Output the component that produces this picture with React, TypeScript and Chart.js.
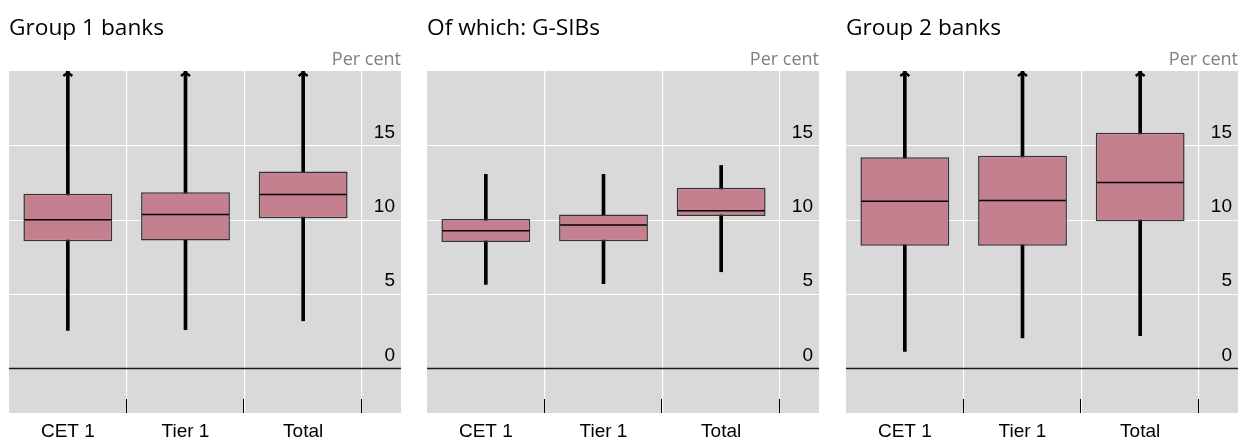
import React, { useEffect, useRef } from "react";
import { Chart, registerables } from "chart.js";

Chart.register(...registerables);

const categories = ["CET 1", "Tier 1", "Total"];
const panelTitles = ["Group 1 banks", "Of which: G-SIBs", "Group 2 banks"];
const unitLabel = "Per cent";

// Group 1 banks
const g1Low = [2.55, 2.6, 3.2];
const g1Q1 = [8.55, 8.6, 10.1];
const g1Median = [10.0, 10.35, 11.7];
const g1Q3 = [11.75, 11.85, 13.25];
const g1High = [20, 20, 20]; // truncated at the axis top

// Of which: G-SIBs
const gsLow = [5.65, 5.7, 6.5];
const gsQ1 = [8.5, 8.55, 10.25];
const gsMedian = [9.25, 9.65, 10.6];
const gsQ3 = [10.05, 10.35, 12.15];
const gsHigh = [13.05, 13.05, 13.65];

// Group 2 banks
const g2Low = [1.15, 2.05, 2.2];
const g2Q1 = [8.25, 8.25, 9.9];
const g2Median = [11.25, 11.3, 12.5];
const g2Q3 = [14.2, 14.3, 15.85];
const g2High = [20, 20, 20]; // truncated at the axis top

const yMin = -3;
const yMax = 20;
const yStep = 5;

const panels = [
  { title: panelTitles[0], low: g1Low, q1: g1Q1, median: g1Median, q3: g1Q3, high: g1High, left: 9 },
  { title: panelTitles[1], low: gsLow, q1: gsQ1, median: gsMedian, q3: gsQ3, high: gsHigh, left: 427 },
  { title: panelTitles[2], low: g2Low, q1: g2Q1, median: g2Median, q3: g2Q3, high: g2High, left: 846 },
];

const BOX_FILL = "#C4808F";
const BOX_BORDER = "#333333";
const PANEL_BG = "#D9D9D9";
const SANS = "'Liberation Sans', Arial, sans-serif";
const TITLE_FONT = "'Open Sans', 'Noto Sans', sans-serif";

const CANVAS_W = 392;
const CANVAS_H = 441;
const LABEL_INSET = 6;

const boxDecor = {
  id: "boxDecor",
  afterLayout(chart: any) {
    // tick labels sit a little in from the panel's right edge
    const ys = chart.scales.y;
    ys.right = chart.width - LABEL_INSET;
  },
  beforeDraw(chart: any) {
    const { ctx, chartArea } = chart;
    ctx.save();
    ctx.fillStyle = PANEL_BG;
    ctx.fillRect(chartArea.left, chartArea.top, chart.width - chartArea.left, chartArea.bottom - chartArea.top);
    ctx.restore();
  },
  beforeDatasetsDraw(chart: any) {
    const { ctx, chartArea } = chart;
    const ys = chart.scales.y;
    const xs = chart.scales.x;
    ctx.save();
    ys.ticks.forEach((t: any) => {
      if (t.value <= 0 || t.value >= yMax) return;
      const y = Math.round(ys.getPixelForValue(t.value)) + 0.5;
      ctx.strokeStyle = "#ffffff";
      ctx.lineWidth = 1.2;
      ctx.beginPath();
      ctx.moveTo(chartArea.left, y);
      ctx.lineTo(chart.width, y);
      ctx.stroke();
    });
    const y0 = Math.round(ys.getPixelForValue(0)) + 0.5;
    ctx.strokeStyle = "#1a1a1a";
    ctx.lineWidth = 1.3;
    ctx.beginPath();
    ctx.moveTo(chartArea.left, y0);
    ctx.lineTo(chart.width, y0);
    ctx.stroke();
    const n = chart.data.labels.length;
    const half = (xs.getPixelForValue(1) - xs.getPixelForValue(0)) / 2;
    ctx.strokeStyle = "#000000";
    ctx.lineWidth = 1;
    for (let i = 0; i < n; i++) {
      const x = Math.round(xs.getPixelForValue(i) + half) - 0.5;
      ctx.beginPath();
      ctx.moveTo(x, chartArea.bottom - 14);
      ctx.lineTo(x, chartArea.bottom);
      ctx.stroke();
    }
    ctx.restore();
  },
  afterDatasetsDraw(chart: any, _args: any, opts: any) {
    const { ctx, chartArea } = chart;
    const ys = chart.scales.y;
    const boxMeta = chart.getDatasetMeta(0);
    const medians: number[] = opts.median || [];
    const highs: number[] = opts.high || [];
    ctx.save();
    boxMeta.data.forEach((el: any, i: number) => {
      const y = ys.getPixelForValue(medians[i]);
      ctx.strokeStyle = "#000000";
      ctx.lineWidth = 1.5;
      ctx.beginPath();
      ctx.moveTo(el.x - el.width / 2 + 1, y);
      ctx.lineTo(el.x + el.width / 2 - 1, y);
      ctx.stroke();
      if (highs[i] >= yMax) {
        const top = chartArea.top + 1.5;
        ctx.lineWidth = 2.4;
        ctx.beginPath();
        ctx.moveTo(el.x - 4.5, top + 3.5);
        ctx.lineTo(el.x, top);
        ctx.lineTo(el.x + 4.5, top + 3.5);
        ctx.stroke();
      }
    });
    ctx.restore();
  },
};

function Panel(props: { p: any }) {
  const ref = useRef<HTMLCanvasElement | null>(null);
  const p = props.p;
  useEffect(() => {
    if (!ref.current) return;
    const chart = new Chart(ref.current, {
      type: "bar",
      data: {
        labels: categories,
        datasets: [
          {
            label: "Interquartile range",
            data: p.q1.map((v: number, i: number) => [v, p.q3[i]]),
            backgroundColor: BOX_FILL,
            borderColor: BOX_BORDER,
            borderWidth: 1.5,
            borderSkipped: false,
            barPercentage: 0.755,
            categoryPercentage: 1,
            grouped: false,
            order: 1,
          } as any,
          {
            label: "Range",
            data: p.low.map((v: number, i: number) => [v, p.high[i]]),
            backgroundColor: "#000000",
            borderWidth: 0,
            barThickness: 3,
            grouped: false,
            order: 2,
          } as any,
        ],
      },
      options: {
        animation: false,
        responsive: false,
        maintainAspectRatio: false,
        layout: { padding: 0 },
        plugins: {
          legend: { display: false },
          tooltip: { enabled: false },
          title: {
            display: true,
            text: p.title,
            align: "start",
            color: "#000000",
            font: { family: TITLE_FONT, size: 22.7, weight: "normal" },
            padding: { top: 15, bottom: 0 },
          },
          subtitle: {
            display: true,
            text: unitLabel,
            align: "end",
            color: "#808080",
            font: { family: TITLE_FONT, size: 18, weight: "normal" },
            padding: { top: 7.2, bottom: 0 },
          },
          boxDecor: { median: p.median, high: p.high },
        } as any,
        scales: {
          x: {
            grid: {
              offset: true,
              drawTicks: false,
              lineWidth: 1.2,
              color: (c: any) => (c.index === 0 ? "rgba(0,0,0,0)" : "#ffffff"),
            },
            border: { display: false },
            ticks: {
              color: "#000000",
              font: { family: SANS, size: 19 },
              padding: 7,
              maxRotation: 0,
            },
            afterFit: (s: any) => {
              s.height = 28;
            },
          },
          y: {
            position: "right",
            min: yMin,
            max: yMax,
            grid: { display: false },
            border: { display: false },
            ticks: {
              stepSize: yStep,
              color: "#000000",
              font: { family: SANS, size: 19 },
              crossAlign: "far",
              padding: 5,
              labelOffset: -13,
              callback: (v: any) => (v >= 0 && v < yMax ? String(v) : ""),
            },
            afterFit: (s: any) => {
              s.width = 39;
            },
          },
        },
      } as any,
      plugins: [boxDecor],
    });
    return () => chart.destroy();
  }, []);
  return (
    <canvas
      ref={ref}
      width={CANVAS_W}
      height={CANVAS_H}
      style={{ position: "absolute", left: p.left, top: 0, width: CANVAS_W, height: CANVAS_H }}
    />
  );
}

export default function App() {
  return (
    <div
      style={{
        position: "fixed",
        left: 0,
        top: 0,
        width: 1241,
        height: 441,
        overflow: "hidden",
        background: "#ffffff",
      }}
    >
      {panels.map((p, i) => (
        <Panel key={i} p={p} />
      ))}
    </div>
  );
}
